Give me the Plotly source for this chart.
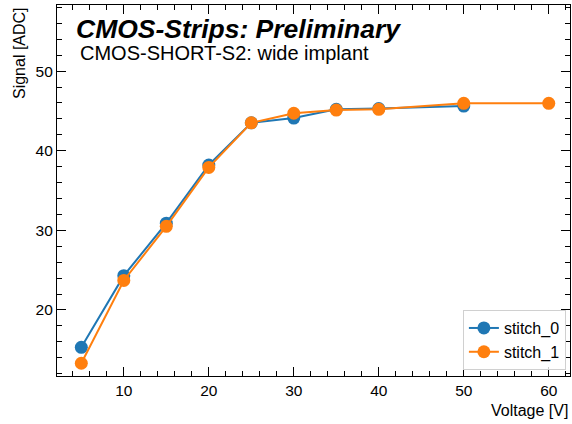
import plotly.graph_objects as go

voltage_0 = [5, 10, 15, 20, 25, 30, 35, 40, 50]
signal_0 = [15.3, 24.3, 30.9, 38.2, 43.5, 44.1, 45.2, 45.3, 45.6]
voltage_1 = [5, 10, 15, 20, 25, 30, 35, 40, 50, 60]
signal_1 = [13.3, 23.7, 30.5, 37.9, 43.5, 44.7, 45.1, 45.2, 45.95, 45.95]
series_names = ["stitch_0", "stitch_1"]
colors = ["#1f77b4", "#ff7f0e"]

FONT = "Liberation Sans, Arial, sans-serif"

fig = go.Figure()
for xs, ys, name, c in [(voltage_0, signal_0, series_names[0], colors[0]),
                        (voltage_1, signal_1, series_names[1], colors[1])]:
    fig.add_trace(go.Scatter(x=xs, y=ys, name=name, mode="lines+markers",
                             line=dict(color=c, width=2),
                             marker=dict(color=c, size=13)))

axis_common = dict(
    showgrid=False, zeroline=False, showline=True, linecolor="black", linewidth=1.2,
    mirror="allticks", ticks="inside", ticklen=9, tickwidth=1, tickcolor="black",
    tickfont=dict(family=FONT, size=15.5, color="black"),
)
fig.update_xaxes(range=[2.14, 62.5], dtick=10, tick0=0,
                 minor=dict(ticks="inside", ticklen=5, dtick=2, tick0=0, tickcolor="black"),
                 **axis_common)
fig.update_yaxes(range=[11.7, 58.3], dtick=10, tick0=0,
                 minor=dict(ticks="inside", ticklen=5, dtick=2, tick0=0, tickcolor="black"),
                 **axis_common)

fig.update_layout(
    width=572, height=424,
    margin=dict(l=57, r=2, t=5, b=48),
    plot_bgcolor="white", paper_bgcolor="white",
    font=dict(family=FONT, color="black"),
    legend=dict(x=0.992, y=0.016, xanchor="right", yanchor="bottom",
                bordercolor="#d0d0d0", borderwidth=1, bgcolor="rgba(255,255,255,0.8)",
                font=dict(family=FONT, size=16)),
    annotations=[
        dict(text="<b><i>CMOS-Strips: Preliminary</i></b>", xref="paper", yref="paper",
             x=0.033, y=0.936, xanchor="left", yanchor="middle", showarrow=False,
             font=dict(family=FONT, size=26.5, color="black")),
        dict(text="CMOS-SHORT-S2: wide implant", xref="paper", yref="paper",
             x=0.040, y=0.871, xanchor="left", yanchor="middle", showarrow=False,
             font=dict(family=FONT, size=20, color="black")),
        dict(text="Signal [ADC]", xref="paper", yref="paper", textangle=-90,
             x=-0.074, y=1.0, xanchor="center", yanchor="top", showarrow=False,
             font=dict(family=FONT, size=16, color="black")),
        dict(text="Voltage [V]", xref="paper", yref="paper",
             x=1.0, y=-0.094, xanchor="right", yanchor="middle", showarrow=False,
             font=dict(family=FONT, size=16, color="black")),
    ],
)

fig.write_html("out.html", config={"displayModeBar": False},
               post_script="document.body.style.margin='0';document.body.style.overflow='hidden';")
